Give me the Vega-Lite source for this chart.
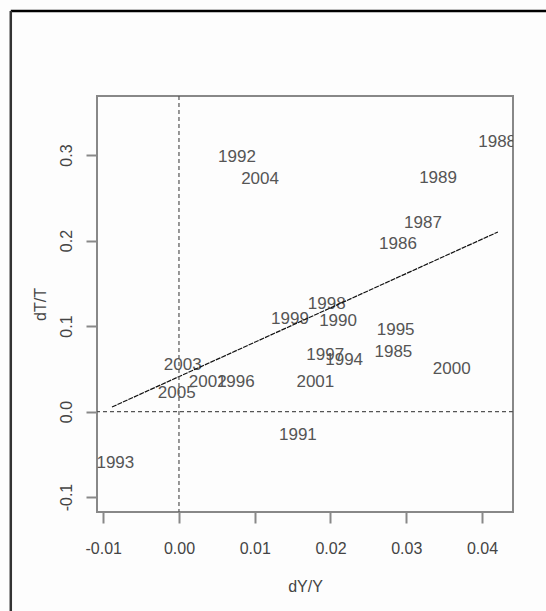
{
  "$schema": "https://vega.github.io/schema/vega-lite/v6.json",
  "width": 416,
  "height": 416,
  "autosize": {"type": "none"},
  "padding": {"left": 97, "top": 96, "right": 33, "bottom": 99},
  "background": "#fdfdfd",
  "config": {
    "view": {"stroke": "#888888", "strokeWidth": 2},
    "font": "Liberation Sans",
    "axis": {
      "grid": false,
      "domain": false,
      "tickColor": "#888888",
      "tickWidth": 2,
      "tickSize": 11,
      "labelColor": "#444444",
      "labelFontSize": 16,
      "labelFont": "Liberation Sans",
      "titleFont": "Liberation Sans",
      "titleFontSize": 16,
      "titleFontWeight": "normal",
      "titleColor": "#444444"
    }
  },
  "datasets": {
    "years": [
      {"dYY": 0.00766, "dTT": 0.2977, "year": "1992"},
      {"dYY": 0.0107, "dTT": 0.272, "year": "2004"},
      {"dYY": 0.042, "dTT": 0.315, "year": "1988"},
      {"dYY": 0.0342, "dTT": 0.273, "year": "1989"},
      {"dYY": 0.0322, "dTT": 0.2205, "year": "1987"},
      {"dYY": 0.0289, "dTT": 0.196, "year": "1986"},
      {"dYY": 0.0195, "dTT": 0.1257, "year": "1998"},
      {"dYY": 0.021, "dTT": 0.106, "year": "1990"},
      {"dYY": 0.01465, "dTT": 0.108, "year": "1999"},
      {"dYY": 0.0286, "dTT": 0.0953, "year": "1995"},
      {"dYY": 0.0283, "dTT": 0.0696, "year": "1985"},
      {"dYY": 0.036, "dTT": 0.0497, "year": "2000"},
      {"dYY": 0.0193, "dTT": 0.066, "year": "1997"},
      {"dYY": 0.0218, "dTT": 0.06, "year": "1994"},
      {"dYY": 0.018, "dTT": 0.0345, "year": "2001"},
      {"dYY": 0.0157, "dTT": -0.0275, "year": "1991"},
      {"dYY": -0.0084, "dTT": -0.0602, "year": "1993"},
      {"dYY": 0.0005, "dTT": 0.0544, "year": "2003"},
      {"dYY": -0.0003, "dTT": 0.0216, "year": "2005"},
      {"dYY": 0.0038, "dTT": 0.0345, "year": "2002"},
      {"dYY": 0.0075, "dTT": 0.0345, "year": "1996"}
    ],
    "fit": [
      {"dYY": -0.00884, "dTT": 0.0053},
      {"dYY": 0.0421, "dTT": 0.21}
    ]
  },
  "layer": [
    {
      "data": {"name": "years"},
      "mark": {"type": "text", "fontSize": 17, "font": "Liberation Sans", "color": "#555555", "clip": true, "align": "center", "baseline": "middle"},
      "encoding": {
        "x": {
          "field": "dYY",
          "type": "quantitative",
          "scale": {"domain": [-0.01082, 0.04409], "nice": false, "zero": false},
          "axis": {
            "title": "dY/Y",
            "values": [-0.01, 0, 0.01, 0.02, 0.03, 0.04],
            "format": ".2f",
            "labelExpr": "replace(datum.label, '\u2212', '-')",
            "labelPadding": 17,
            "titlePadding": 22
          }
        },
        "y": {
          "field": "dTT",
          "type": "quantitative",
          "scale": {"domain": [-0.1175, 0.369], "nice": false, "zero": false},
          "axis": {
            "title": "dT/T",
            "values": [-0.1, 0, 0.1, 0.2, 0.3],
            "format": ".1f",
            "labelExpr": "replace(datum.label, '\u2212', '-')",
            "labelAngle": -90,
            "labelAlign": "center",
            "labelBaseline": "bottom",
            "labelPadding": 12,
            "titlePadding": 10
          }
        },
        "text": {"field": "year"}
      }
    },
    {
      "data": {"name": "fit"},
      "mark": {"type": "line", "stroke": "#111111", "strokeWidth": 1.2, "strokeDash": [5, 1]},
      "encoding": {
        "x": {"field": "dYY", "type": "quantitative"},
        "y": {"field": "dTT", "type": "quantitative"}
      }
    },
    {
      "data": {"values": [{}]},
      "mark": {"type": "rule", "stroke": "#555555", "strokeWidth": 1.2, "strokeDash": [4, 3]},
      "encoding": {"x": {"datum": 0, "type": "quantitative"}}
    },
    {
      "data": {"values": [{}]},
      "mark": {"type": "rule", "stroke": "#555555", "strokeWidth": 1.2, "strokeDash": [4, 3]},
      "encoding": {"y": {"datum": 0, "type": "quantitative"}}
    },
    {
      "data": {"values": [{}]},
      "mark": {"type": "rule", "stroke": "#000000", "strokeWidth": 2.5, "clip": false},
      "encoding": {
        "x": {"datum": -0.0222, "type": "quantitative"},
        "x2": {"datum": 0.06},
        "y": {"datum": 0.4684, "type": "quantitative"}
      }
    },
    {
      "data": {"values": [{}]},
      "mark": {"type": "rule", "stroke": "#333333", "strokeWidth": 2.5, "clip": false},
      "encoding": {
        "x": {"datum": -0.0222, "type": "quantitative"},
        "y": {"datum": 0.4684, "type": "quantitative"},
        "y2": {"datum": -0.3}
      }
    }
  ]
}
